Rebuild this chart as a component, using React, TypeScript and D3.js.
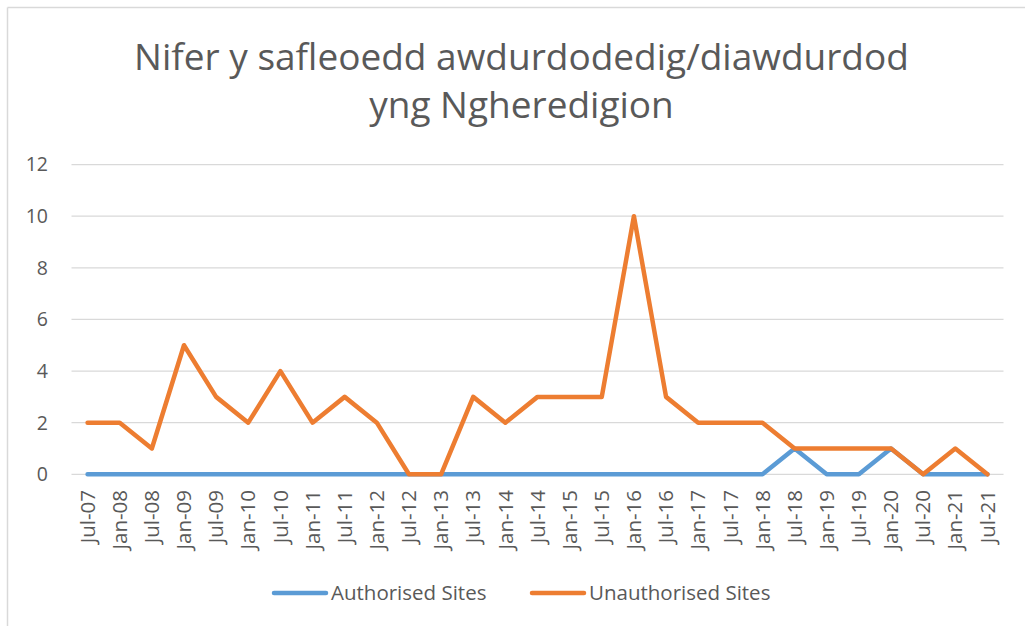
import React from "react";
import * as d3 from "d3";

const categories = ["Jul-07","Jan-08","Jul-08","Jan-09","Jul-09","Jan-10","Jul-10","Jan-11","Jul-11","Jan-12","Jul-12","Jan-13","Jul-13","Jan-14","Jul-14","Jan-15","Jul-15","Jan-16","Jul-16","Jan-17","Jul-17","Jan-18","Jul-18","Jan-19","Jul-19","Jan-20","Jul-20","Jan-21","Jul-21"];
const authorised = [0,0,0,0,0,0,0,0,0,0,0,0,0,0,0,0,0,0,0,0,0,0,1,0,0,1,0,0,0];
const unauthorised = [2,2,1,5,3,2,4,2,3,2,0,0,3,2,3,3,3,10,3,2,2,2,1,1,1,1,0,1,0];
const yTicks = [0,2,4,6,8,10,12];
const seriesNames = ["Authorised Sites", "Unauthorised Sites"];
const seriesColors = ["#5b9bd5", "#ed7d31"];
const titleLines = ["Nifer y safleoedd awdurdodedig/diawdurdod", "yng Ngheredigion"];

const W = 1025, H = 626;
const FONT = "'Open Sans', 'Noto Sans', sans-serif";
const TXT = "#595959";

export default function App() {
  const x = d3.scaleBand<string>().domain(categories).range([71.5, 1003.5]);
  const y = d3.scaleLinear().domain([0, 12]).range([474.3, 164.6]);
  const cx = (c: string) => (x(c) as number) + x.bandwidth() / 2;
  const line = d3.line<number>().x((_, i) => cx(categories[i])).y((d) => y(d));
  const series = [authorised, unauthorised];
  const legendX = [272, 530];
  return (
    <svg width={W} height={H} style={{ position: "absolute", left: 0, top: 0, background: "#fff" }} fontFamily={FONT}>
      <rect x={0} y={0} width={W} height={H} fill="#fff" />
      <line x1={7.5} y1={7.5} x2={W} y2={7.5} stroke="#d9d9d9" strokeWidth={1.5} />
      <line x1={7.5} y1={7.5} x2={7.5} y2={H} stroke="#d9d9d9" strokeWidth={1.5} />
      {titleLines.map((t, i) => (
        <text key={t} x={521.5} y={70 + i * 48} textAnchor="middle" fontSize={37} fill={TXT}>{t}</text>
      ))}
      {yTicks.map((t) => (
        <g key={t}>
          <line x1={71.5} x2={1003.5} y1={y(t)} y2={y(t)} stroke="#d9d9d9" strokeWidth={1.3} />
          <text x={48} y={y(t)} dy="0.35em" textAnchor="end" fontSize={19.5} fill={TXT}>{t}</text>
        </g>
      ))}
      {categories.map((c) => (
        <text key={c} transform={`translate(${cx(c)},490) rotate(-90)`} textAnchor="end" dy="0.35em" fontSize={20.5} fill={TXT}>{c}</text>
      ))}
      {series.map((s, i) => (
        <path key={i} d={line(s) as string} fill="none" stroke={seriesColors[i]} strokeWidth={4.5} strokeLinejoin="round" strokeLinecap="round" />
      ))}
      {seriesNames.map((n, i) => (
        <g key={n}>
          <line x1={legendX[i] + 2} x2={legendX[i] + 54} y1={593} y2={593} stroke={seriesColors[i]} strokeWidth={4.5} strokeLinecap="round" />
          <text x={legendX[i] + 59} y={593} dy="0.35em" fontSize={20.5} fill={TXT}>{n}</text>
        </g>
      ))}
    </svg>
  );
}
